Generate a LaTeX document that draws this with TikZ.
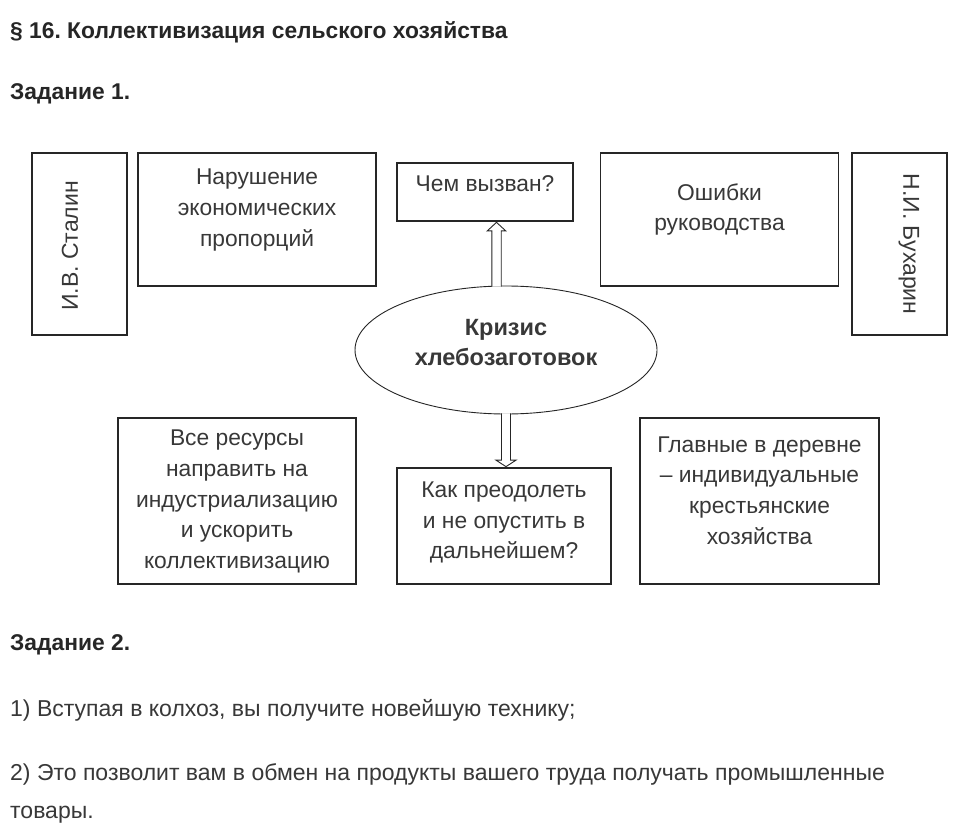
\documentclass[tikz,border=0pt]{standalone}
\usepackage{fontspec}
\setmainfont{Liberation Sans}
\usetikzlibrary{calc,shapes.geometric}
\definecolor{txt}{HTML}{383838}
\definecolor{hd}{HTML}{262626}
\definecolor{frame}{HTML}{262626}
\frenchspacing
\begin{document}
\begin{tikzpicture}[x=1pt,y=-1pt,
  box/.style={draw=frame, line width=1.7pt, inner sep=0pt},
  bt/.style={text=txt, font=\fontsize{22.8}{30.6}\selectfont, align=center, inner sep=0pt},
  rt/.style={text=txt, font=\fontsize{23}{26}\selectfont, inner sep=0pt},
  hdr/.style={text=hd, font=\bfseries\fontsize{22.8}{26}\selectfont, inner sep=0pt, anchor=base west},
  para/.style={text=txt, font=\fontsize{23}{27}\selectfont, inner sep=0pt, anchor=base west},
  ell/.style={draw=frame, line width=0.9pt, ellipse, inner sep=0pt},
  dbl/.style={draw=frame, line width=0.9pt, fill=white, line join=miter}
]
\useasboundingbox (0,0) rectangle (957,837);
\fill[white] (0,0) rectangle (957,837);

% headings
\node[hdr] (title) at (10,38.5) {§ 16. Коллективизация сельского хозяйства};
\node[hdr] (z1) at (10,99.5) {Задание 1.};

% boxes
\node[box, minimum width=95pt, minimum height=182pt] (stalin) at (79.5,244) {};
\node[rt, rotate=90] (stalinT) at (70,246) {И.В. Сталин};
\node[box, minimum width=238pt, minimum height=133pt] (narush) at (257,219.5) {};
\node[bt] (narushT) at (257,210) {Нарушение\\экономических\\пропорций};
\node[box, minimum width=176pt, minimum height=58pt] (cause) at (485,192) {};
\node[bt] (causeT) at (485,184) {Чем вызван?};
\node[box, minimum width=238pt, minimum height=133pt] (osh) at (719.5,219.5) {};
\node[bt] (oshT) at (719.5,209.5) {Ошибки\\руководства};
\node[box, minimum width=95pt, minimum height=182pt] (bukh) at (899.5,244) {};
\node[rt, rotate=-90] (bukhT) at (909,244) {Н.И. Бухарин};

% ellipse
\node[ell, minimum width=302pt, minimum height=128pt] (crisis) at (506,350) {};
\node[bt, font=\bfseries\fontsize{23.5}{30}\selectfont] (crisisT) at (506,343) {Кризис\\хлебозаготовок};

% lower boxes
\node[box, minimum width=238pt, minimum height=166pt] (vse) at (237,501) {};
\node[bt] (vseT) at (237,501.5) {Все ресурсы\\направить на\\индустриализацию\\и ускорить\\коллективизацию};
\node[box, minimum width=214pt, minimum height=116pt] (kak) at (504,526) {};
\node[bt] (kakT) at (504,522.5) {Как преодолеть\\и не опустить в\\дальнейшем?};
\node[box, minimum width=239pt, minimum height=166pt] (glav) at (759.5,501) {};
\node[bt] (glavT) at (759.5,490.5) {Главные в деревне\\– индивидуальные\\крестьянские\\хозяйства};

% double arrows
\coordinate (ut) at ($(cause.south)+(11.5,0.5)$);
\coordinate (ub) at ($(crisis.north)+(-9.5,1)$);
\draw[dbl] ($(ub)+(-4.7,0)$) -- ($(ut)+(-4.7,8.5)$) -- ($(ut)+(-9.2,8.5)$) -- (ut)
  -- ($(ut)+(9.2,8.5)$) -- ($(ut)+(4.7,8.5)$) -- ($(ub)+(4.7,0)$);
\coordinate (dt) at ($(kak.north)+(2,-0.5)$);
\coordinate (db) at ($(crisis.south)+(0,-1)$);
\draw[dbl] ($(db)+(-4.5,0)$) -- ($(dt)+(-4.5,-6.5)$) -- ($(dt)+(-10,-6.5)$) -- (dt)
  -- ($(dt)+(10,-6.5)$) -- ($(dt)+(4.5,-6.5)$) -- ($(db)+(4.5,0)$);

% task 2
\node[hdr] (z2) at (10,650) {Задание 2.};
\node[para] (p1) at (10,716) {1) Вступая в колхоз, вы получите новейшую технику;};
\node[para] (p2) at (10,780) {2) Это позволит вам в обмен на продукты вашего труда получать промышленные};
\node[para] (p3) at (10,818.5) {товары.};
\end{tikzpicture}
\end{document}
